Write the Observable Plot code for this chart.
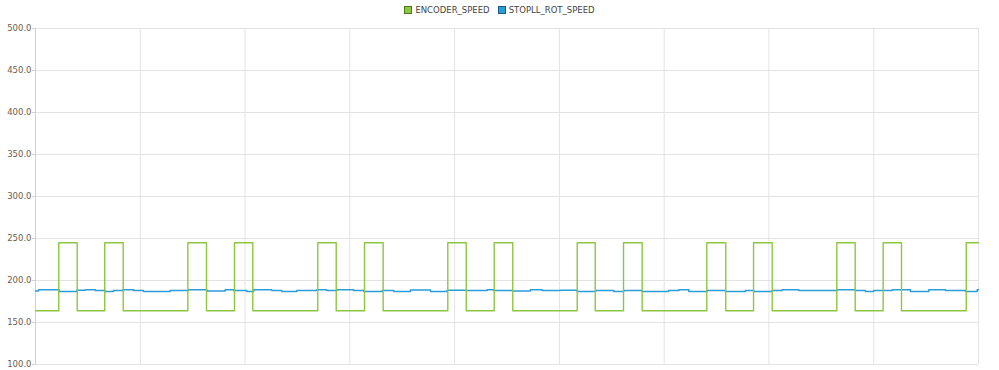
<!DOCTYPE html>
<html>
<head>
<meta charset="utf-8">
<script src="https://cdn.jsdelivr.net/npm/d3@7"></script>
<script src="https://cdn.jsdelivr.net/npm/@observablehq/plot@0.6"></script>
<style>
  html, body { margin: 0; padding: 0; background: #fff; }
  #wrap { width: 999px; height: 370px; overflow: hidden; position: relative; }
  #legend { height: 20px; display: flex; justify-content: center; align-items: center;
    font-family: "DejaVu Sans", sans-serif; font-size: 8.5px; color: #444; gap: 8px; padding-left: 0px; }
  .item { display: flex; align-items: center; gap: 3px; }
  .sw { width: 6px; height: 6px; border: 1px solid; display: inline-block; }
</style>
</head>
<body>
<div id="wrap">
  <div id="legend"></div>
  <div id="chart"></div>
</div>
<script>
// Series names
const seriesNames = ["ENCODER_SPEED", "STOPLL_ROT_SPEED"];
const seriesColors = ["#8dc641", "#2a9ddb"];
const swatchBorders = ["#4e7a1c", "#1a5a86"];

// Y axis ticks
const yTicks = [100, 150, 200, 250, 300, 350, 400, 450, 500];
// X grid (time units)
const xTicks = [0, 10, 20, 30, 40, 50, 60, 70, 80, 90];

// ENCODER_SPEED: step change times and values
const encTimes = [0, 2.22, 3.98, 6.61, 8.37, 14.54, 16.32, 18.99, 20.74, 26.94, 28.70, 31.40, 33.18,
  39.35, 41.11, 43.78, 45.55, 51.70, 53.42, 56.12, 57.90, 64.07, 65.88, 68.53, 70.31,
  76.48, 78.23, 80.90, 82.65, 88.83, 90];
const encValues = [164, 245, 164, 245, 164, 245, 164, 245, 164, 245, 164, 245, 164,
  245, 164, 245, 164, 245, 164, 245, 164, 245, 164, 245, 164,
  245, 164, 245, 164, 245, 245];

// STOPLL_ROT_SPEED: step change times and values
const rotTimes = [0, 0.29, 2.26, 3.94, 4.74, 5.70, 6.65, 7.44, 8.33, 9.35, 10.31, 12.86, 14.60,
  16.35, 18.10, 18.90, 20.17, 20.81, 22.55, 23.51, 24.94, 26.85, 27.80, 28.76, 30.35,
  31.33, 33.09, 34.20, 35.79, 37.70, 39.29, 41.04, 43.11, 43.74, 45.50, 47.24, 48.36,
  50.11, 51.70, 53.45, 55.19, 56.15, 57.90, 60.41, 61.40, 62.35, 64.11, 65.85, 67.76,
  68.55, 70.31, 71.27, 72.85, 76.51, 78.26, 79.21, 80.01, 81.76, 83.51, 85.26, 86.85,
  88.76, 89.88, 90];
const rotValues = [187.5, 189, 187, 188.5, 189, 188, 187, 188, 189, 188, 187, 188, 189,
  187.5, 189, 188, 187, 189, 188, 187, 188, 189, 188, 189, 188,
  187, 188, 187, 188.7, 187, 188.5, 188, 189, 188, 187.5, 189, 188,
  188.5, 187, 188, 187, 188, 187, 188, 189, 187, 188, 187, 188,
  187, 188, 189, 188, 189, 188, 187, 188, 189, 187, 189, 188,
  187, 189, 189];

const enc = encTimes.map((t, i) => ({t, v: encValues[i]}));
const rot = rotTimes.map((t, i) => ({t, v: rotValues[i]}));

// Legend
const legend = document.getElementById("legend");
seriesNames.forEach((n, i) => {
  const it = document.createElement("span");
  it.className = "item";
  const sw = document.createElement("span");
  sw.className = "sw";
  sw.style.background = seriesColors[i];
  sw.style.borderColor = swatchBorders[i];
  const tx = document.createElement("span");
  tx.textContent = n;
  it.appendChild(sw); it.appendChild(tx);
  legend.appendChild(it);
});

const chart = Plot.plot({
  width: 999,
  height: 350,
  marginTop: 8,
  marginBottom: 6,
  marginLeft: 35,
  marginRight: 21,
  style: {fontFamily: "DejaVu Sans, sans-serif", fontSize: "8.5px", background: "#fff"},
  x: {domain: [0, 90], axis: null},
  y: {domain: [100, 500], axis: null},
  marks: [
    Plot.gridY(yTicks, {stroke: "#e3e3e3", strokeOpacity: 1}),
    Plot.gridX(xTicks, {stroke: "#e3e3e3", strokeOpacity: 1}),
    Plot.ruleX([0], {stroke: "#d0d0d0"}),
    Plot.axisY(yTicks, {tickFormat: d3.format(".1f"), tickSize: 3, tickPadding: 1, stroke: "#cfcfcf", fill: "#6e5c48", fontSize: 8.5, label: null}),
    Plot.line(rot, {x: "t", y: "v", curve: "step-after", stroke: seriesColors[1], strokeWidth: 1.5}),
    Plot.line(enc, {x: "t", y: "v", curve: "step-after", stroke: seriesColors[0], strokeWidth: 1.4})
  ]
});
document.getElementById("chart").appendChild(chart);
</script>
</body>
</html>
